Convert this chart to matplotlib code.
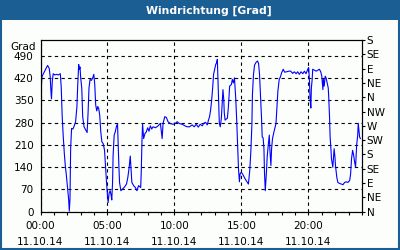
import matplotlib
matplotlib.use("Agg")
import matplotlib.pyplot as plt
from matplotlib.patches import Rectangle

title = "Windrichtung [Grad]"
y_unit = "Grad"
date_label = "11.10.14"
x_major = [0, 5, 10, 15, 20]
x_labels = ["00:00", "05:00", "10:00", "15:00", "20:00"]
y_left_ticks = [0, 70, 140, 210, 280, 350, 420, 490]
y_right_ticks = [0, 45, 90, 135, 180, 225, 270, 315, 360, 405, 450, 495, 540]
y_right_labels = ["N", "NE", "E", "SE", "S", "SW", "W", "NW", "N", "NE", "E", "SE", "S"]

hours = [
    0.03, 0.05, 0.12, 0.25, 0.38, 0.53, 0.65, 0.72, 0.78, 0.82, 0.88, 0.95, 1.08, 1.2, 1.32, 1.48,
    1.55, 1.62, 1.7, 1.78, 1.85, 1.92, 2.0, 2.05, 2.1, 2.15, 2.2, 2.25, 2.32, 2.42, 2.52, 2.62,
    2.72, 2.78, 2.85, 2.9, 2.95, 3.0, 3.08, 3.15, 3.25, 3.38, 3.48, 3.55, 3.62, 3.7, 3.8, 3.9,
    3.98, 4.05, 4.12, 4.2, 4.28, 4.35, 4.42, 4.5, 4.58, 4.68, 4.78, 4.85, 4.92, 5.0, 5.05, 5.12,
    5.2, 5.28, 5.32, 5.38, 5.42, 5.5, 5.58, 5.68, 5.75, 5.8, 5.85, 5.9, 6.0, 6.12, 6.28, 6.42,
    6.52, 6.62, 6.7, 6.75, 6.82, 6.95, 7.08, 7.2, 7.32, 7.48, 7.52, 7.58, 7.62, 7.7, 7.8, 7.9,
    8.0, 8.1, 8.2, 8.3, 8.4, 8.58, 8.78, 8.95, 9.08, 9.15, 9.28, 9.4, 9.52, 9.7, 9.9, 10.08,
    10.2, 10.38, 10.58, 10.78, 10.95, 11.12, 11.32, 11.48, 11.62, 11.78, 11.92, 12.08, 12.18, 12.32,
    12.45, 12.52, 12.62, 12.7, 12.78, 12.85, 12.92, 13.0, 13.08, 13.15, 13.2, 13.25, 13.3, 13.35,
    13.42, 13.5, 13.58, 13.62, 13.68, 13.72, 13.78, 13.85, 13.95, 14.02, 14.12, 14.25, 14.32, 14.4,
    14.48, 14.52, 14.58, 14.65, 14.72, 14.78, 14.85, 14.9, 14.98, 15.08, 15.18, 15.28, 15.42, 15.52,
    15.62, 15.7, 15.78, 15.82, 15.9, 15.98, 16.08, 16.2, 16.28, 16.35, 16.42, 16.5, 16.55, 16.62,
    16.68, 16.72, 16.78, 16.82, 16.88, 16.92, 17.0, 17.08, 17.12, 17.2, 17.25, 17.32, 17.4, 17.48,
    17.58, 17.65, 17.72, 17.82, 17.9, 18.0, 18.12, 18.22, 18.38, 18.52, 18.68, 18.82, 18.95, 19.08,
    19.2, 19.32, 19.45, 19.58, 19.7, 19.82, 19.95, 20.02, 20.08, 20.12, 20.18, 20.22, 20.28, 20.32,
    20.45, 20.58, 20.7, 20.82, 20.92, 21.0, 21.08, 21.12, 21.18, 21.25, 21.32, 21.4, 21.48, 21.52,
    21.58, 21.62, 21.68, 21.72, 21.78, 21.82, 21.88, 21.92, 21.98, 22.02, 22.08, 22.12, 22.2, 22.32,
    22.45, 22.58, 22.7, 22.82, 22.95, 23.08, 23.15, 23.22, 23.3, 23.38, 23.45, 23.52, 23.6, 23.68,
    23.72, 23.78, 23.82, 23.88,
]
direction = [
    315, 389, 426, 437, 448, 460, 451, 426, 379, 355, 410, 434, 430, 432, 430, 434,
    389, 299, 235, 182, 145, 119, 82, 60, 39, 2, 39, 198, 262, 260, 270, 283,
    331, 400, 463, 448, 455, 421, 389, 299, 267, 257, 249, 310, 389, 416, 413, 421,
    432, 400, 336, 317, 331, 323, 304, 251, 220, 214, 193, 145, 98, 50, 29, 58,
    66, 50, 37, 92, 177, 241, 251, 270, 275, 209, 145, 92, 66, 71, 78, 87,
    108, 140, 175, 140, 92, 82, 76, 66, 82, 76, 124, 230, 275, 230, 246, 251,
    264, 253, 270, 260, 267, 264, 270, 278, 230, 278, 299, 296, 283, 277, 275, 278,
    283, 277, 275, 270, 267, 267, 273, 267, 275, 266, 275, 270, 278, 281,
    273, 285, 299, 320, 352, 389, 432, 448, 463, 469, 479, 410, 336, 278,
    267, 294, 357, 384, 352, 310, 288, 291, 294, 326, 395, 400, 416, 405,
    421, 395, 352, 283, 204, 135, 94, 119, 124, 119, 111, 103, 94, 87,
    129, 188, 273, 368, 432, 461, 469, 474, 466, 432, 368, 294, 235, 232,
    198, 124, 66, 92, 135, 172, 209, 241, 198, 145, 198, 230, 246, 260,
    278, 326, 379, 416, 423, 437, 448, 439, 440, 442, 442, 435, 440, 434,
    440, 432, 440, 434, 442, 434, 448, 453, 410, 357, 326, 389, 416, 448,
    445, 442, 445, 448, 440, 426, 384, 416, 395, 426, 421, 405, 389, 357,
    294, 235, 198, 167, 151, 140, 177, 198, 172, 145, 124, 108, 92, 89,
    87, 85, 92, 94, 92, 98, 119, 167, 193, 177, 156, 140, 209, 241,
    278, 251, 235, 230,
]

bg = "#fcfefc"
blue = "#1b5e94"
W, H = 400, 250
fig = plt.figure(figsize=(W / 100, H / 100), dpi=100, facecolor=bg)

# title bar and border
fig.patches.append(Rectangle((0, 1 - 20 / H), 1, 20 / H, transform=fig.transFigure,
                             facecolor=blue, edgecolor="none", zorder=0))
fig.patches.append(Rectangle((1 / W, 1 / H), 1 - 2 / W, 1 - 2 / H, transform=fig.transFigure,
                             facecolor="none", edgecolor=blue, linewidth=1.5, zorder=1))
fig.text(209 / W, 1 - 10.5 / H, title, color="white", fontsize=7.8, fontweight="bold",
         ha="center", va="center")

left, right, bottom, top = 40.5, 362, 211.7, 40
ax = fig.add_axes([left / W, 1 - bottom / H, (right - left) / W, (bottom - top) / H])
ax.set_facecolor(bg)
ax.plot(hours, direction, color="#0000ff", linewidth=0.8, zorder=3)

ax.set_xlim(0, 24)
ax.set_ylim(0, 540)
ax.set_xticks(x_major)
ax.set_xticklabels([f"{l}\n{date_label}" for l in x_labels], linespacing=1.75)
ax.set_xticks(range(0, 25), minor=True)
ax.set_yticks(y_left_ticks)
ax.set_yticklabels([str(v) for v in y_left_ticks])
ax.tick_params(axis="x", which="both", direction="out", length=2.5, width=0.8,
               labelsize=7.5, pad=4)
ax.tick_params(axis="y", which="both", direction="out", length=0, width=0.8,
               labelsize=7.5, pad=5)
ax.grid(True, which="major", color="black", linestyle=(0, (3, 3)), linewidth=0.8)
for s in ax.spines.values():
    s.set_linewidth(0.8)
    s.set_color("black")

ax2 = ax.twinx()
ax2.set_ylim(0, 540)
ax2.set_yticks(y_right_ticks)
ax2.set_yticklabels(y_right_labels)
ax2.tick_params(axis="y", direction="out", length=2.5, width=0.8, labelsize=7.5, pad=1)
for s in ax2.spines.values():
    s.set_linewidth(0.8)

fig.text(35.5 / W, 1 - 46.5 / H, y_unit, fontsize=7.5, ha="right", va="center")

fig.savefig("out.png", dpi=100, facecolor=bg)
